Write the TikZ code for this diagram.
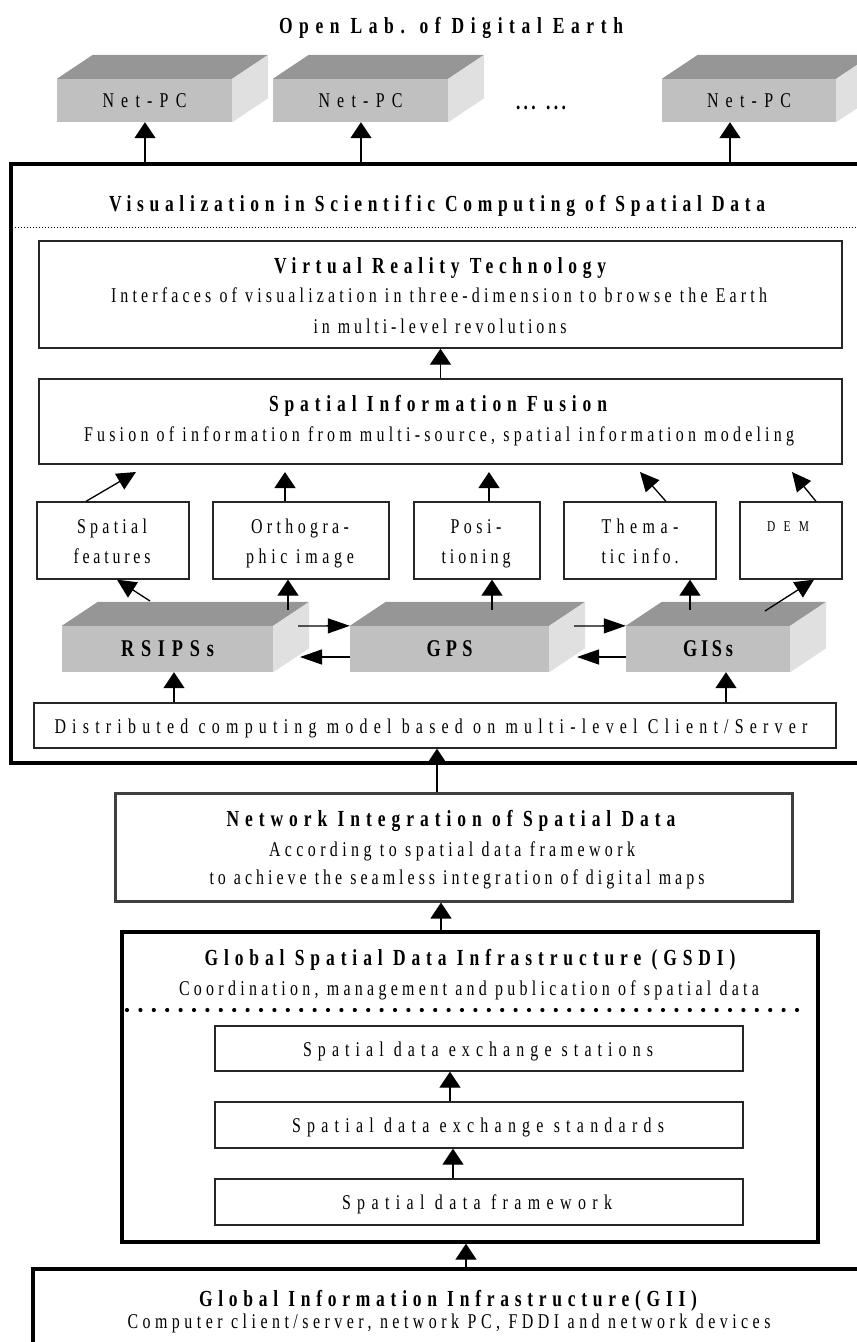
\documentclass[tikz,border=0pt]{standalone}
\usepackage{fontspec}
\setmainfont{Liberation Serif}[FakeStretch=0.76]
\usetikzlibrary{arrows.meta}
\newlength\fwA
\newlength\fwB
\newcommand\fitw[2]{\settowidth\fwA{#2}\settowidth\fwB{\addfontfeature{LetterSpace=20}#2}\pgfmathsetmacro\lsv{20*(#1-\fwA)/(\fwB-\fwA)}\addfontfeature{LetterSpace=\lsv}#2}
\definecolor{frontc}{RGB}{192,192,192}
\definecolor{topc}{RGB}{150,150,150}
\definecolor{sidec}{RGB}{224,224,224}
\newcommand\facesthreed[1]{%
  \fill[topc] (#1.north west) -- ++(36,-24) -- ([shift={(36,-24)}]#1.north east) -- (#1.north east) -- cycle;
  \fill[sidec] (#1.north east) -- ++(36,-24) -- ([shift={(36,-24)}]#1.south east) -- (#1.south east) -- cycle;}
\tikzset{
  bodytxt/.style={inner sep=0pt, text height=13.9pt, text depth=0pt, font=\fontsize{21}{24}\selectfont},
  smalltxt/.style={inner sep=0pt, text height=9.9pt, text depth=0pt, font=\fontsize{15}{18}\selectfont},
  ttltxt/.style={inner sep=0pt, text height=15.2pt, text depth=0pt, font=\fontsize{23}{27}\selectfont\bfseries},
  lblthree/.style={inner sep=0pt, text height=15.9pt, text depth=0pt, font=\fontsize{24}{28}\selectfont\bfseries},
  thinbox/.style={draw=black!85, line width=1.3pt, inner sep=0pt},
  thickbox/.style={draw=black, line width=3.3pt, inner sep=0pt},
  facef/.style={fill=frontc, inner sep=0pt},
  varr/.style={line width=1.3pt, -{Triangle[width=21pt,length=16pt]}},
  harr/.style={line width=1.3pt, -{Triangle[width=15pt,length=22pt]}},
  darr/.style={line width=1.3pt, -{Triangle[width=18pt,length=19pt]}},
}
\begin{document}
\begin{tikzpicture}[x=1pt,y=-1pt]
\useasboundingbox (0,0) rectangle (857,1342);
\clip (0,0) rectangle (857,1342);

% title
\node[ttltxt] (olab) at (451,26) {\fitw{344}{Open Lab. of Digital Earth}};

% Net-PCs
\node[facef, bodytxt, minimum width=175pt, minimum height=43pt] (pc1) at (144.5,100.5) {\fitw{84}{Net-PC}};
\node[facef, bodytxt, minimum width=175pt, minimum height=43pt] (pc2) at (360.5,100.5) {\fitw{84}{Net-PC}};
\node[facef, bodytxt, minimum width=174pt, minimum height=43pt] (pc3) at (749,100.5) {\fitw{84}{Net-PC}};
\facesthreed{pc1}
\facesthreed{pc2}
\facesthreed{pc3}
\node[ttltxt] (ell) at (541,102) {\fitw{50}{... ...}};

% Visualization container
\node[thickbox, minimum width=859pt, minimum height=599pt] (vis) at (440.5,463.5) {};
\coordinate (a1) at (145,0);
\coordinate (a2) at (361,0);
\coordinate (a3) at (730,0);
\draw[varr] (vis.north -| a1) -- (pc1.south -| a1);
\draw[varr] (vis.north -| a2) -- (pc2.south -| a2);
\draw[varr] (vis.north -| a3) -- (pc3.south -| a3);
\node[ttltxt] (vist) at (437,204) {\fitw{656}{Visualization in Scientific Computing of Spatial Data}};
\coordinate (dly) at (0,227);
\draw[line width=1pt, dash pattern=on 1pt off 2pt] (vis.west |- dly) -- (vis.east |- dly);

% Virtual reality
\node[thinbox, minimum width=803pt, minimum height=107pt] (vr) at (440.5,294.5) {};
\node[ttltxt] (vrt) at (440,266) {\fitw{332}{Virtual Reality Technology}};
\node[bodytxt] (vr2) at (439,296) {\fitw{656}{Interfaces of visualization in three-dimension to browse the Earth}};
\node[bodytxt] (vr3) at (440,327) {\fitw{253}{in multi-level revolutions}};

% Fusion
\node[thinbox, minimum width=803pt, minimum height=85pt] (sif) at (440.5,421.5) {};
\node[ttltxt] (sift) at (438,404) {\fitw{338}{Spatial Information Fusion}};
\node[bodytxt] (sif2) at (439,435) {\fitw{710}{Fusion of information from multi-source, spatial information modeling}};
\draw[varr] (sif.north) -- (vr.south);

% small boxes
\node[thinbox, minimum width=152pt, minimum height=77pt] (ba) at (113,540.5) {};
\node[thinbox, minimum width=176pt, minimum height=77pt] (bb) at (301,540.5) {};
\node[thinbox, minimum width=126pt, minimum height=77pt] (bc) at (477,540.5) {};
\node[thinbox, minimum width=152pt, minimum height=77pt] (bd) at (640,540.5) {};
\node[thinbox, minimum width=102pt, minimum height=77pt] (be) at (791,540.5) {};
\node[bodytxt] (ba1) at (112,527) {\fitw{70}{Spatial}};
\node[bodytxt] (ba2) at (112,557) {\fitw{77}{features}};
\node[bodytxt] (bb1) at (300,527) {\fitw{98}{Orthogra-}};
\node[bodytxt] (bb2) at (300,557) {\fitw{108}{phic image}};
\node[bodytxt] (bc1) at (476,527) {\fitw{51}{Posi-}};
\node[bodytxt] (bc2) at (476,557) {\fitw{69}{tioning}};
\node[bodytxt] (bd1) at (640,527) {\fitw{77}{Thema-}};
\node[bodytxt] (bd2) at (640,557) {\fitw{77}{tic info.}};
\node[smalltxt] (be1) at (788,527) {\fitw{42}{DEM}};

% arrows small boxes -> fusion
\coordinate (sa) at (86,0);
\coordinate (ea) at (136,472);
\coordinate (eb) at (285,472);
\coordinate (ec) at (489,472);
\coordinate (sd) at (666,0);
\coordinate (ed) at (640,472);
\coordinate (se) at (816,0);
\coordinate (ee) at (792,472);
\draw[darr] (ba.north -| sa) -- (ea);
\draw[varr] (bb.north -| eb) -- (eb);
\draw[varr] (bc.north -| ec) -- (ec);
\draw[darr] (bd.north -| sd) -- (ed);
\draw[darr] (be.north -| se) -- (ee);

% 3D boxes
\node[facef, lblthree, minimum width=211pt, minimum height=46pt] (rs) at (167.5,649) {\fitw{93}{RSIPSs}};
\node[facef, lblthree, minimum width=199pt, minimum height=46pt] (gps) at (449.5,649) {\fitw{46}{GPS}};
\node[facef, lblthree, minimum width=164pt, minimum height=46pt] (gis) at (708,649) {\fitw{50}{GISs}};
\facesthreed{rs}
\facesthreed{gps}
\facesthreed{gis}

% arrows 3D -> small boxes
\coordinate (sr1) at (150,601);
\coordinate (xa2) at (117,0);
\coordinate (sr2) at (288,610);
\coordinate (sg1) at (492,610);
\coordinate (si1) at (690,610);
\coordinate (si2) at (765,611);
\coordinate (xe2) at (814,0);
\draw[darr] (sr1) -- (ba.south -| xa2);
\draw[varr] (sr2) -- (bb.south -| sr2);
\draw[varr] (sg1) -- (bc.south -| sg1);
\draw[varr] (si1) -- (bd.south -| si1);
\draw[darr] (si2) -- (be.south -| xe2);

% horizontal arrows
\coordinate (h1) at (298,626);
\coordinate (h2) at (300,657);
\coordinate (h3) at (574,626);
\coordinate (h4) at (577,657);
\draw[harr] (h1) -- (gps.north west);
\draw[harr] (gps.west |- h2) -- (h2);
\draw[harr] (h3) -- (gis.north west);
\draw[harr] (gis.west |- h4) -- (h4);

% distributed
\node[thinbox, minimum width=802pt, minimum height=45pt] (dist) at (435,725.5) {};
\node[bodytxt] (distt) at (431,727) {\fitw{753}{Distributed computing model based on multi-level Client/Server}};
\coordinate (d1) at (174,0);
\coordinate (d2) at (726,0);
\draw[varr] (dist.north -| d1) -- (rs.south -| d1);
\draw[varr] (dist.north -| d2) -- (gis.south -| d2);

% network integration
\node[thickbox, draw=black!75, line width=3pt, minimum width=677pt, minimum height=108pt] (nisd) at (453.5,847) {};
\node[ttltxt] (nisdt) at (451,819) {\fitw{449}{Network Integration of Spatial Data}};
\node[bodytxt] (nisd2) at (452,850) {\fitw{366}{According to spatial data framework}};
\node[bodytxt] (nisd3) at (457,878) {\fitw{495}{to achieve the seamless integration of digital maps}};
\coordinate (n1) at (437,0);
\draw[varr] (nisd.north -| n1) -- (dist.south -| n1);

% GSDI
\node[thickbox, minimum width=696pt, minimum height=310pt] (gsdi) at (470,1087) {};
\node[ttltxt] (gsdit) at (470,958) {\fitw{531}{Global Spatial Data Infrastructure (GSDI)}};
\node[bodytxt] (gsdi2) at (469,989) {\fitw{580}{Coordination, management and publication of spatial data}};
\coordinate (g1) at (441,0);
\draw[varr] (gsdi.north -| g1) -- (nisd.south -| g1);
\coordinate (dl1) at (127,1010);
\coordinate (dl2) at (797,1010);
\draw[line width=4.2pt, line cap=round, dash pattern=on 0pt off 13.4pt] (dl1) -- (dl2);
\node[thinbox, minimum width=528pt, minimum height=45pt] (st1) at (479,1048.5) {};
\node[thinbox, minimum width=528pt, minimum height=46pt] (st2) at (479,1125) {};
\node[thinbox, minimum width=528pt, minimum height=46pt] (st3) at (479,1202) {};
\node[bodytxt] (st1t) at (478,1050) {\fitw{350}{Spatial data exchange stations}};
\node[bodytxt] (st2t) at (478,1126) {\fitw{372}{Spatial data exchange standards}};
\node[bodytxt] (st3t) at (477,1203) {\fitw{270}{Spatial data framework}};
\coordinate (s1) at (450,0);
\coordinate (s2) at (453,0);
\draw[varr] (st2.north -| s1) -- (st1.south -| s1);
\draw[varr] (st3.north -| s2) -- (st2.south -| s2);

% GII
\node[thickbox, minimum width=850pt, minimum height=120pt] (gii) at (458,1329) {};
\node[ttltxt] (giit) at (448,1299) {\fitw{498}{Global Information Infrastructure(GII)}};
\node[bodytxt] (gii2) at (449,1322) {\fitw{643}{Computer client/server, network PC, FDDI and network devices}};
\coordinate (g2) at (466,0);
\draw[varr] (gii.north -| g2) -- (gsdi.south -| g2);
\end{tikzpicture}
\end{document}
